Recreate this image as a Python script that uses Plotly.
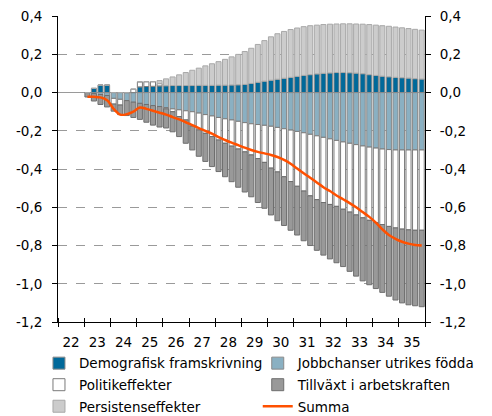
import pandas as pd
import plotly.graph_objects as go

# ---- data (2023Q1 .. 2035Q4) ----
quarters = [str(p) for p in pd.period_range("2023Q1", "2035Q4", freq="Q")]

demografisk = [0, 0.022, 0.039, 0.039, 0, 0, 0, 0, 0.030, 0.032,
               0.033, 0.035, 0.036, 0.037, 0.037, 0.037, 0.037, 0.038, 0.038, 0.038,
               0.039, 0.039, 0.040, 0.041, 0.043, 0.048, 0.054, 0.060, 0.065, 0.070,
               0.075, 0.080, 0.085, 0.090, 0.094, 0.098, 0.101, 0.103, 0.105, 0.105,
               0.104, 0.102, 0.099, 0.094, 0.090, 0.086, 0.083, 0.080, 0.078, 0.076,
               0.073, 0.071]
jobbchanser = [0, -0.005, -0.010, -0.015, -0.030, -0.035, -0.042, -0.050, -0.056, -0.062,
               -0.068, -0.073, -0.078, -0.085, -0.090, -0.095, -0.100, -0.107, -0.115, -0.122,
               -0.130, -0.137, -0.143, -0.150, -0.157, -0.163, -0.167, -0.171, -0.176, -0.182,
               -0.189, -0.196, -0.203, -0.210, -0.218, -0.226, -0.234, -0.242, -0.250, -0.258,
               -0.265, -0.272, -0.279, -0.285, -0.290, -0.295, -0.298, -0.300, -0.300, -0.300,
               -0.300, -0.300]
politik = [0, 0, 0, 0, -0.030, -0.030, 0, 0.018, 0.026, 0.025,
           0.024, 0.012, -0.007, -0.015, -0.035, -0.048, -0.075, -0.088, -0.098, -0.108,
           -0.118, -0.128, -0.137, -0.145, -0.153, -0.163, -0.178, -0.194, -0.219, -0.233,
           -0.251, -0.269, -0.287, -0.305, -0.322, -0.334, -0.341, -0.343, -0.345, -0.352,
           -0.360, -0.368, -0.376, -0.383, -0.390, -0.395, -0.402, -0.408, -0.414, -0.418,
           -0.420, -0.420]
tillvaxt = [-0.023, -0.039, -0.052, -0.060, -0.037, -0.050, -0.078, -0.080, -0.084, -0.093,
            -0.102, -0.107, -0.100, -0.105, -0.105, -0.122, -0.125, -0.138, -0.147, -0.157,
            -0.165, -0.175, -0.186, -0.200, -0.210, -0.219, -0.230, -0.240, -0.245, -0.255,
            -0.255, -0.255, -0.255, -0.260, -0.260, -0.265, -0.275, -0.285, -0.295, -0.300,
            -0.310, -0.320, -0.330, -0.337, -0.345, -0.355, -0.365, -0.377, -0.386, -0.392,
            -0.395, -0.400]
persistens = [0, 0, 0, 0, 0, 0, 0, 0, 0, 0,
              0, 0.016, 0.036, 0.045, 0.056, 0.068, 0.080, 0.090, 0.102, 0.113,
              0.123, 0.135, 0.147, 0.159, 0.172, 0.184, 0.198, 0.212, 0.227, 0.238,
              0.245, 0.250, 0.253, 0.255, 0.256, 0.255, 0.255, 0.255, 0.254, 0.255,
              0.256, 0.257, 0.259, 0.262, 0.263, 0.264, 0.264, 0.263, 0.261, 0.259,
              0.258, 0.256]
summa = [-0.021, -0.022, -0.025, -0.040, -0.085, -0.115, -0.113, -0.100, -0.078, -0.085,
         -0.095, -0.105, -0.115, -0.128, -0.140, -0.155, -0.170, -0.186, -0.200, -0.215,
         -0.233, -0.248, -0.262, -0.275, -0.288, -0.300, -0.310, -0.318, -0.326, -0.337,
         -0.352, -0.372, -0.397, -0.422, -0.445, -0.470, -0.495, -0.515, -0.538, -0.558,
         -0.578, -0.600, -0.625, -0.650, -0.680, -0.715, -0.745, -0.765, -0.780, -0.790,
         -0.797, -0.800]

y_ticks = [-1.2, -1.0, -0.8, -0.6, -0.4, -0.2, 0.0, 0.2, 0.4]
y_ticktext = ["-1,2", "-1,0", "-0,8", "-0,6", "-0,4", "-0,2", "0,0", "0,2", "0,4"]

# quarter midpoints as dates
periods = pd.PeriodIndex(quarters, freq="Q")
x = [p.start_time + (p.end_time - p.start_time) / 2 for p in periods]

FONT = "DejaVu Sans"
FS = 13.5
fig = go.Figure()

def bar(name, vals, fill, line, legend):
    fig.add_trace(go.Bar(x=x, y=vals, name=name, legend=legend, legendgroup=name,
                         marker=dict(color=fill, line=dict(color=line, width=1))))

bar("Demografisk framskrivning", demografisk, "#00699A", "#8a8a8a", "legend")
bar("Jobbchanser utrikes födda", jobbchanser, "#8AB0C2", "#8a8a8a", "legend2")
bar("Politikeffekter", politik, "#FFFFFF", "#7a7a7a", "legend")
bar("Tillväxt i arbetskraften", tillvaxt, "#999999", "#6e6e6e", "legend2")
bar("Persistenseffekter", persistens, "#CCCCCC", "#a8a8a8", "legend")
fig.add_trace(go.Scatter(x=x, y=summa, name="Summa", mode="lines",
                         legend="legend2", legendgroup="Summa",
                         line=dict(color="#FF5000", width=2.5, shape="spline")))
# invisible helpers anchoring the secondary axes
fig.add_trace(go.Scatter(x=[x[0]], y=[0], yaxis="y2", mode="markers",
                         marker=dict(opacity=0), showlegend=False, hoverinfo="skip"))
fig.add_trace(go.Scatter(x=[x[0]], y=[0], xaxis="x2", mode="markers",
                         marker=dict(opacity=0), showlegend=False, hoverinfo="skip"))

xrange = ["2022-01-01", "2036-01-01"]
yrange = [-1.2, 0.4008]
legend_common = dict(orientation="v", xref="container", yref="container",
                     xanchor="left", yanchor="top", y=0.167,
                     font=dict(family=FONT, size=FS), tracegroupgap=1,
                     bgcolor="rgba(0,0,0,0)", traceorder="grouped")
fig.update_layout(
    width=484, height=408,
    margin=dict(l=50, r=67, t=8, b=94, pad=0, autoexpand=False),
    paper_bgcolor="white", plot_bgcolor="white",
    barmode="relative", bargap=0.22,
    font=dict(family=FONT, size=FS, color="#000000"),
    xaxis=dict(type="date", range=xrange, dtick="M12", tick0="2022-01-01",
               tickformat="%y", ticklabelmode="period",
               ticks="outside", ticklen=4, tickcolor="#000", tickwidth=1,
               showline=True, linecolor="#000", linewidth=1,
               showgrid=False, zeroline=False, ticklabelstandoff=4,
               tickfont=dict(family=FONT, size=FS)),
    xaxis2=dict(type="date", range=xrange, dtick="M12", tick0="2022-01-01",
                overlaying="x", anchor="free", position=0, side="top",
                ticks="outside", ticklen=4, tickcolor="#000", tickwidth=1,
                showticklabels=False, showline=False, showgrid=False, zeroline=False),
    yaxis=dict(range=yrange, tickmode="array", tickvals=y_ticks, ticktext=y_ticktext,
               ticks="outside", ticklen=5, tickcolor="#000",
               showline=True, linecolor="#000", linewidth=1,
               showgrid=True, gridcolor="#9a9a9a", griddash="dash", gridwidth=1,
               zeroline=True, zerolinecolor="#9a9a9a", zerolinewidth=1,
               ticklabelstandoff=7, ticklabeloverflow="allow",
               tickfont=dict(family=FONT, size=FS)),
    yaxis2=dict(range=yrange, overlaying="y", side="right", anchor="x",
                tickmode="array", tickvals=y_ticks, ticktext=y_ticktext,
                ticks="outside", ticklen=5, tickcolor="#000",
                showline=True, linecolor="#000", linewidth=1,
                showgrid=False, zeroline=False, ticklabelstandoff=6,
                ticklabeloverflow="allow",
                tickfont=dict(family=FONT, size=FS)),
    legend=dict(x=0.064, **legend_common),
    legend2=dict(x=0.516, **legend_common),
    showlegend=True,
)

fig.write_html("out.html")
